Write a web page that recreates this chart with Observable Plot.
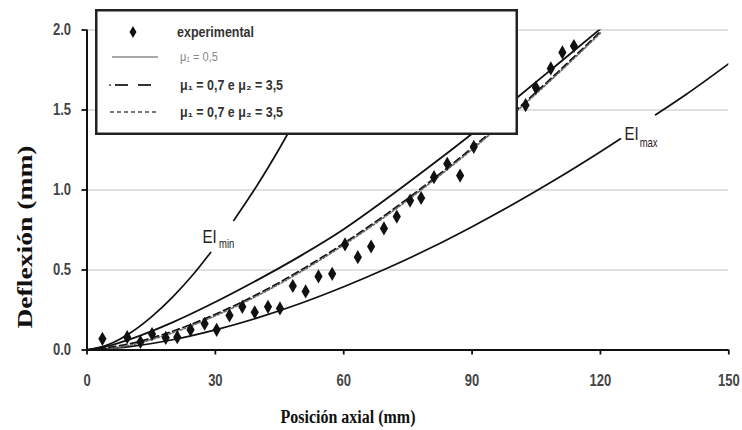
<!DOCTYPE html>
<html>
<head>
<meta charset="utf-8">
<script src="https://cdn.jsdelivr.net/npm/d3@7"></script>
<script src="https://cdn.jsdelivr.net/npm/@observablehq/plot@0.6"></script>
<style>
  body { margin: 0; background: #fff; }
  #chart { position: relative; width: 742px; height: 430px; }
  #chart svg.legend { position: absolute; left: 95px; top: 9px; }
</style>
</head>
<body>
<div id="chart"></div>
<script>
// Axis ticks
const xTicks = [0, 30, 60, 90, 120, 150];
const yTicks = [0, 0.5, 1.0, 1.5, 2.0];

// Experimental deflection (mm) against axial position (mm)
const expX = [3.6, 9.4, 12.5, 15.2, 18.4, 21.1, 24.2, 27.5, 30.3, 33.3, 36.3, 39.2, 42.3, 45.1, 48.1, 51.1, 54.1, 57.3, 60.3, 63.3, 66.4, 69.4, 72.4, 75.5, 78.1, 81.1, 84.2, 87.2, 90.4, 102.5, 104.9, 108.4, 111.1, 113.8];
const expY = [0.07, 0.08, 0.05, 0.10, 0.076, 0.08, 0.126, 0.164, 0.126, 0.216, 0.27, 0.236, 0.27, 0.26, 0.40, 0.366, 0.46, 0.476, 0.66, 0.58, 0.647, 0.76, 0.834, 0.934, 0.95, 1.08, 1.164, 1.09, 1.27, 1.53, 1.64, 1.76, 1.86, 1.90];

// Model with a single friction coefficient
const muX = [0, 5, 10, 20, 30, 40, 50, 60, 70, 80, 90, 100, 110, 120];
const muY = [0, 0.026, 0.067, 0.173, 0.300, 0.440, 0.590, 0.755, 0.945, 1.145, 1.352, 1.566, 1.786, 2.007];

// Model with two friction coefficients (drawn dashed and dotted)
const mu12X = [0, 10, 20, 30, 40, 50, 60, 70, 80, 90, 100, 110, 120];
const mu12Y = [0, 0.039, 0.117, 0.223, 0.351, 0.499, 0.666, 0.849, 1.049, 1.263, 1.492, 1.735, 1.990];

// Stiffness bounds; each curve is broken where its label sits
const eiMinX = [0, 5, 10, 15, 20, 25, 28.9, 34.3, 40, 45, 50, 55, 60];
const eiMinY = [0, 0.034, 0.105, 0.206, 0.331, 0.478, 0.61, 0.81, 1.039, 1.261, 1.500, 1.755, 2.027];
const eiMinGap = [28.9, 34.3];

const eiMaxX = [0, 10, 20, 30, 40, 50, 60, 70, 80, 90, 100, 110, 120, 124.7, 132.9, 140, 150];
const eiMaxY = [0, 0.021, 0.064, 0.126, 0.202, 0.292, 0.395, 0.509, 0.634, 0.771, 0.917, 1.073, 1.239, 1.32, 1.47, 1.597, 1.79];
const eiMaxGap = [124.7, 132.9];

const zip = (xs, ys) => xs.map((x, i) => ({x, y: ys[i]}));
const split = (rows, gap) => rows.map(d => ({...d, seg: d.x > gap[0] ? 1 : 0}));

const experimental = zip(expX, expY);
const mu = zip(muX, muY);
const mu12 = zip(mu12X, mu12Y);
const eiMin = split(zip(eiMinX, eiMinY), eiMinGap);
const eiMax = split(zip(eiMaxX, eiMaxY), eiMaxGap);

// Label anchors: middle of each curve's gap
const gapMid = (rows, gap) => {
  const a = rows.find(d => d.x === gap[0]), b = rows.find(d => d.x === gap[1]);
  return {x: (a.x + b.x) / 2, y: (a.y + b.y) / 2};
};
const eiLabels = [
  {...gapMid(eiMin, eiMinGap), sub: "min", dxMain: -12, dyMain: 0, dxSub: 5, dySub: 8},
  {...gapMid(eiMax, eiMaxGap), sub: "max", dxMain: -6, dyMain: 7, dxSub: 11, dySub: 16}
];

const ink = "#111";
const tall = 1.28; // vertical stretch applied to the chart's lettering

const chart = Plot.plot({
  width: 742,
  height: 430,
  marginLeft: 86.5,
  marginRight: 13.7,
  marginTop: 29.5,
  marginBottom: 80.5,
  style: {fontFamily: "'Liberation Sans', sans-serif", fontSize: "13px", background: "white"},
  x: {domain: [0, 150]},
  y: {domain: [0, 2]},
  marks: [
    Plot.gridY(yTicks.slice(1), {stroke: "#d6d6d6", strokeOpacity: 1, strokeWidth: 1.5}),
    Plot.line(eiMin, {x: "x", y: "y", z: "seg", curve: "monotone-x", stroke: ink, strokeWidth: 1.7, clip: true}),
    Plot.line(eiMax, {x: "x", y: "y", z: "seg", curve: "monotone-x", stroke: ink, strokeWidth: 1.7, clip: true}),
    Plot.line(mu, {x: "x", y: "y", curve: "monotone-x", stroke: ink, strokeWidth: 1.8, clip: true}),
    Plot.line(mu12, {x: "x", y: "y", curve: "monotone-x", stroke: ink, strokeWidth: 1.8, strokeDasharray: "7,4", clip: true}),
    Plot.line(mu12, {x: "x", y: "y", curve: "monotone-x", stroke: "#666", strokeWidth: 1.6, strokeDasharray: "2,2", dy: 1.5, clip: true}),
    Plot.dot(experimental, {x: "x", y: "y", symbol: "diamond", r: 4.3, fill: ink, stroke: "none"}),
    Plot.ruleY([0], {stroke: ink, strokeWidth: 2}),
    Plot.ruleX([0], {stroke: ink, strokeWidth: 2}),
    Plot.axisX(xTicks, {tickSize: 5, tickPadding: 19, stroke: ink, strokeWidth: 1.8, fill: "#444", fontWeight: "bold", label: null}),
    Plot.axisY(yTicks, {tickSize: 5, tickPadding: 11, stroke: ink, strokeWidth: 1.8, fill: "#444", fontWeight: "bold", tickFormat: d => d.toFixed(1), label: null})
  ]
});
document.getElementById("chart").appendChild(chart);

const svg = d3.select(chart);

// Give tick labels the same tall lettering as the rest of the chart
svg.selectAll("g[aria-label='x-axis tick label'] text, g[aria-label='y-axis tick label'] text").each(function() {
  const t = d3.select(this);
  let tr = t.attr("transform");
  if (!tr) {
    tr = `translate(${+t.attr("x") || 0},${+t.attr("y") || 0})`;
    t.attr("x", null).attr("y", null);
  }
  t.attr("transform", `${tr} scale(1,${tall})`);
});

// Axis titles
const sx = chart.scale("x"), sy = chart.scale("y");
svg.append("text")
  .attr("transform", `translate(348,417) scale(1,1.15)`)
  .attr("text-anchor", "middle").attr("dy", "0.35em")
  .attr("font-family", "'Liberation Serif', serif").attr("font-weight", "bold")
  .attr("font-size", 16).attr("fill", ink)
  .text("Posición axial (mm)");
svg.append("text")
  .attr("transform", `translate(25,237) rotate(-90) scale(1.38,1)`)
  .attr("text-anchor", "middle").attr("dy", "0.35em")
  .attr("font-family", "'Liberation Serif', serif").attr("font-weight", "bold")
  .attr("font-size", 20).attr("fill", ink)
  .text("Deflexión (mm)");

// EI labels with subscripts, placed at each gap through the chart scales
const lab = svg.append("g").attr("font-family", "'Liberation Sans', sans-serif").attr("fill", "#222");
for (const l of eiLabels) {
  const px = sx.apply(l.x), py = sy.apply(l.y);
  lab.append("text").attr("transform", `translate(${px + l.dxMain},${py + l.dyMain}) scale(1,${tall})`)
    .attr("dy", "0.35em").attr("text-anchor", "middle").attr("font-size", 15).text("EI");
  lab.append("text").attr("transform", `translate(${px + l.dxSub},${py + l.dySub}) scale(1,${tall})`)
    .attr("dy", "0.35em").attr("text-anchor", "middle").attr("font-size", 9.5).text(l.sub);
}

// Legend box
const legendItems = [
  {label: "experimental", kind: "diamond"},
  {label: "μ₁ = 0,5", kind: "solid"},
  {label: "μ₁ = 0,7 e μ₂ = 3,5", kind: "dash"},
  {label: "μ₁ = 0,7 e μ₂ = 3,5", kind: "dot"}
];
const rowY = [23, 48, 76, 103];
const leg = d3.select("#chart").append("svg").attr("class", "legend")
  .attr("width", 423).attr("height", 126);
leg.append("rect").attr("x", 1.25).attr("y", 1.25).attr("width", 420.5).attr("height", 123.5)
  .attr("fill", "white").attr("stroke", "#222").attr("stroke-width", 2.5);
legendItems.forEach((item, i) => {
  const y = rowY[i];
  if (item.kind === "diamond") {
    leg.append("path").attr("transform", `translate(38,${y})`)
      .attr("d", d3.symbol(d3.symbolDiamond, 42)()).attr("fill", ink);
  } else if (item.kind === "solid") {
    leg.append("line").attr("x1", 17).attr("x2", 63).attr("y1", y).attr("y2", y)
      .attr("stroke", "#555").attr("stroke-width", 1.2);
  } else if (item.kind === "dash") {
    leg.append("circle").attr("cx", 15).attr("cy", y).attr("r", 1).attr("fill", "#444");
    leg.append("line").attr("x1", 20).attr("x2", 63).attr("y1", y).attr("y2", y)
      .attr("stroke", "#333").attr("stroke-width", 2).attr("stroke-dasharray", "13,10");
  } else {
    leg.append("line").attr("x1", 15).attr("x2", 63).attr("y1", y).attr("y2", y)
      .attr("stroke", "#777").attr("stroke-width", 2).attr("stroke-dasharray", "4,3");
  }
  const solid = item.kind === "solid";
  leg.append("text").attr("transform", `translate(${item.kind === "diamond" ? 82 : 85},${y}) scale(1,1.1)`)
    .attr("dy", "0.35em")
    .attr("font-family", "'Liberation Sans', sans-serif")
    .attr("font-size", solid ? 11 : 12.5)
    .attr("font-weight", solid ? "normal" : "bold")
    .attr("fill", solid ? "#888" : "#333")
    .text(item.label);
});
</script>
</body>
</html>
